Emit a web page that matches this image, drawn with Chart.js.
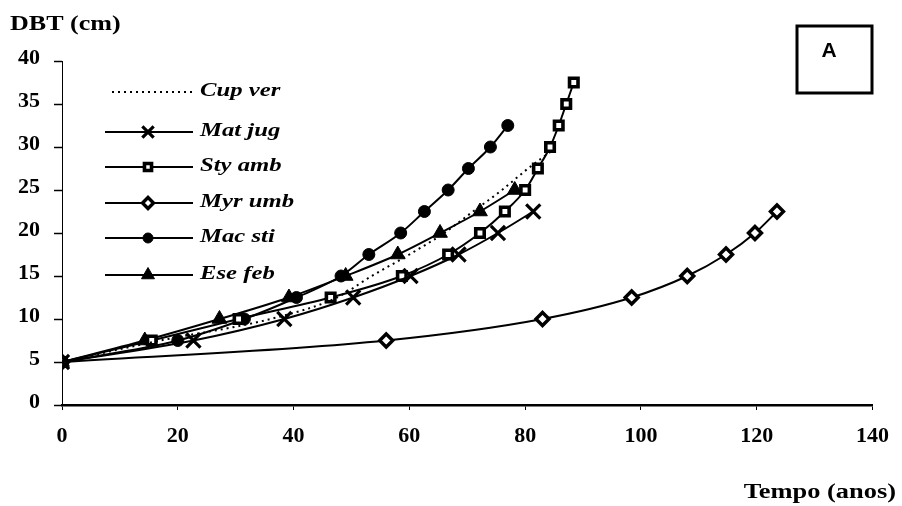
<!DOCTYPE html>
<html>
<head>
<meta charset="utf-8">
<script src="https://cdn.jsdelivr.net/npm/chart.js@4"></script>
<style>
  html, body { margin: 0; padding: 0; background: #fff; }
  #wrap { width: 902px; height: 506px; }
</style>
</head>
<body>
<div id="wrap"><canvas id="c" width="902" height="506"></canvas></div>
<script>
// Diameter (DBT, cm) reached by each species over time (years)
const species = ['Cup ver', 'Mat jug', 'Sty amb', 'Myr umb', 'Mac sti', 'Ese feb'];

const tempoCupVer = [0, 17, 36, 47.5, 53.5, 60, 66, 71, 76, 80.5, 85.5];
const dbtCupVer   = [5, 7.5, 10, 12.5, 15, 17.5, 20, 22.5, 25, 27.5, 30];

const tempoMatJug = [0, 22.7, 38.4, 50.3, 60.2, 68.5, 75.3, 81.4];
const dbtMatJug   = [5, 7.5, 10, 12.5, 15, 17.5, 20, 22.5];

const tempoStyAmb = [0, 15.5, 30.5, 46.4, 58.7, 66.7, 72.2, 76.5, 80, 82.2, 84.3, 85.8, 87.1, 88.4];
const dbtStyAmb   = [5, 7.5, 10, 12.5, 15, 17.5, 20, 22.5, 25, 27.5, 30, 32.5, 35, 37.5];

const tempoMyrUmb = [0, 56, 83, 98.4, 108, 114.7, 119.7, 123.5];
const dbtMyrUmb   = [5, 7.5, 10, 12.5, 15, 17.5, 20, 22.5];

const tempoMacSti = [0, 20, 31.5, 40.5, 48.2, 53, 58.5, 62.6, 66.7, 70.2, 74, 77];
const dbtMacSti   = [5, 7.5, 10, 12.5, 15, 17.5, 20, 22.5, 25, 27.5, 30, 32.5];

const tempoEseFeb = [0, 14.3, 27.2, 39.2, 49, 58, 65.3, 72.2, 78.2];
const dbtEseFeb   = [5, 7.5, 10, 12.5, 15, 17.5, 20, 22.5, 25];

const xTicks = [0, 20, 40, 60, 80, 100, 120, 140];
const yTicks = [0, 5, 10, 15, 20, 25, 30, 35, 40];

const seriesTempo = [tempoCupVer, tempoMatJug, tempoStyAmb, tempoMyrUmb, tempoMacSti, tempoEseFeb];
const seriesDbt   = [dbtCupVer, dbtMatJug, dbtStyAmb, dbtMyrUmb, dbtMacSti, dbtEseFeb];

// marker look per species
const markerStyles = [
  { pointStyle: false, radius: 0, borderWidth: 0, fill: '#000', dash: [2, 4] },
  { pointStyle: 'crossRot', radius: 10, borderWidth: 3.2, fill: '#000', dash: [] },
  { pointStyle: 'rect', radius: 6, borderWidth: 3.6, fill: '#fff', dash: [] },
  { pointStyle: 'rectRot', radius: 6.5, borderWidth: 3.4, fill: '#fff', dash: [] },
  { pointStyle: 'circle', radius: 6, borderWidth: 1, fill: '#000', dash: [] },
  { pointStyle: 'triangle', radius: 8.5, borderWidth: 1, fill: '#000', dash: [] }
];

const datasets = species.map((name, i) => ({
  label: name,
  data: seriesTempo[i].map((t, k) => ({ x: t, y: seriesDbt[i][k] })),
  borderColor: '#000',
  borderWidth: 2,
  borderDash: markerStyles[i].dash,
  pointStyle: markerStyles[i].pointStyle,
  pointRadius: markerStyles[i].radius,
  pointHoverRadius: markerStyles[i].radius,
  pointBorderWidth: markerStyles[i].borderWidth,
  pointBorderColor: '#000',
  pointBackgroundColor: markerStyles[i].fill,
  cubicInterpolationMode: 'monotone',
  fill: false
}));

function stretchedText(ctx, text, x, y, font, sx, align) {
  ctx.save();
  ctx.font = font;
  ctx.fillStyle = '#000';
  ctx.textBaseline = 'middle';
  ctx.textAlign = align;
  ctx.translate(x, y);
  ctx.scale(sx, 1);
  ctx.fillText(text, 0, 0);
  ctx.restore();
}

// axis titles, species key and panel letter
const decorations = {
  id: 'decorations',
  afterDraw(chart) {
    const ctx = chart.ctx;
    stretchedText(ctx, 'DBT (cm)', 10, 25, 'bold 21px "Liberation Serif"', 1.24, 'left');
    stretchedText(ctx, 'Tempo (anos)', 896, 493, 'bold 20px "Liberation Serif"', 1.32, 'right');

    const rows = [92, 132, 167, 203, 238, 275];
    chart.data.datasets.forEach((ds, i) => {
      const y = rows[i];
      ctx.save();
      ctx.strokeStyle = '#000';
      ctx.lineWidth = 1.8;
      ctx.setLineDash(ds.borderDash || []);
      ctx.beginPath();
      ctx.moveTo(i === 0 ? 112 : 105, y);
      ctx.lineTo(193, y);
      ctx.stroke();
      ctx.setLineDash([]);
      if (ds.pointStyle) {
        ctx.fillStyle = ds.pointBackgroundColor;
        ctx.lineWidth = ds.pointBorderWidth;
        Chart.helpers.drawPoint(ctx, {
          pointStyle: ds.pointStyle,
          radius: ds.pointStyle === 'crossRot' ? 8 : ds.pointRadius - 1,
          rotation: 0,
          borderWidth: ds.pointBorderWidth
        }, 148, y);
      }
      ctx.restore();
      stretchedText(ctx, ds.label, 200, y - 1, 'italic bold 19px "Liberation Serif"', 1.3, 'left');
    });

    ctx.save();
    ctx.strokeStyle = '#000';
    ctx.lineWidth = 3;
    ctx.strokeRect(797, 26, 75, 67);
    ctx.restore();
    stretchedText(ctx, 'A', 829, 51, 'bold 21px "Liberation Sans"', 1.0, 'center');
  }
};

new Chart(document.getElementById('c'), {
  type: 'line',
  data: { datasets },
  options: {
    responsive: false,
    animation: false,
    devicePixelRatio: 1,
    layout: { padding: { top: 61, right: 26, left: 0, bottom: 0 } },
    plugins: {
      legend: { display: false },
      tooltip: { enabled: false },
      title: { display: false }
    },
    scales: {
      x: {
        type: 'linear',
        min: 0,
        max: 140,
        afterBuildTicks: s => { s.ticks = xTicks.map(v => ({ value: v })); },
        afterFit: s => { s.height = 101; },
        border: { display: true, color: '#000', width: 2.5 },
        grid: { display: true, drawOnChartArea: false, drawTicks: true, tickLength: 5, color: '#000', tickWidth: 1 },
        ticks: { color: '#000', padding: 13, maxRotation: 0, font: { family: '"Liberation Serif"', size: 22, weight: 'bold' } }
      },
      y: {
        type: 'linear',
        min: 0,
        max: 40,
        afterBuildTicks: s => { s.ticks = yTicks.map(v => ({ value: v })); },
        afterFit: s => { s.width = 62; },
        border: { display: true, color: '#000', width: 1, dash: [6, 3] },
        grid: { display: true, drawOnChartArea: false, drawTicks: true, tickLength: 8, color: '#000', tickWidth: 1.5 },
        ticks: { color: '#000', padding: 14, labelOffset: -3, font: { family: '"Liberation Serif"', size: 22, weight: 'bold' } }
      }
    }
  },
  plugins: [decorations]
});
</script>
</body>
</html>
